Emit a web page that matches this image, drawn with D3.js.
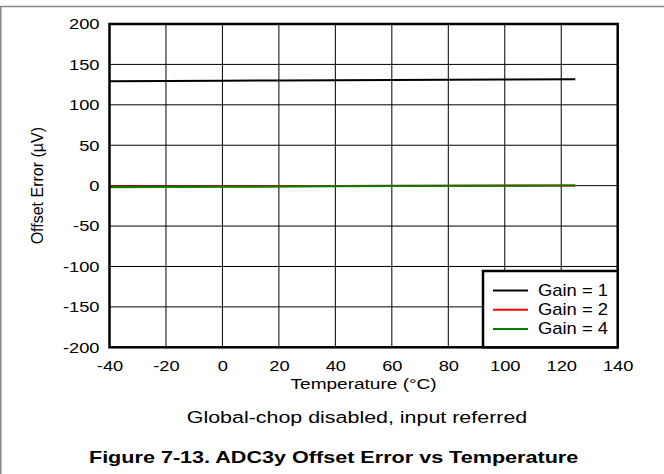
<!DOCTYPE html>
<html>
<head>
<meta charset="utf-8">
<script src="https://cdn.jsdelivr.net/npm/d3@7"></script>
<style>
  body { margin: 0; background: #fff; }
  text { font-family: "Liberation Sans", Arial, sans-serif; fill: #000; }
</style>
</head>
<body>
<svg id="chart" width="664" height="474"></svg>
<script>
// data
var temps = [-40, -20, 0, 20, 40, 60, 80, 100, 125];
var gain1 = [129.3, 129.6, 129.9, 130.2, 130.5, 130.8, 131.1, 131.4, 131.7];
var gain2 = [-1.2, -1.0, -0.8, -0.6, -0.4, -0.2, 0.0, 0.1, 0.3];
var gain4 = [-2.0, -1.7, -1.4, -1.1, -0.8, -0.5, -0.2, 0.0, 0.3];
var seriesNames = ["Gain = 1", "Gain = 2", "Gain = 4"];
var seriesColors = ["#000", "#f00", "#008000"];
var xTicks = [-40, -20, 0, 20, 40, 60, 80, 100, 120, 140];
var yTicks = [-200, -150, -100, -50, 0, 50, 100, 150, 200];

var svg = d3.select("#chart");

// the source image is stretched sideways, so text gets a horizontal scale
function stretched(x0, y0, sx) {
    return "translate(" + x0 + "," + y0 + ") scale(" + sx + ",1)";
}

// outer figure border
svg.append("path")
    .attr("d", "M0.75,480 L0.75,6.5 L670,6.5")
    .attr("fill", "none").attr("stroke", "#888").attr("stroke-width", 1.5);

var pLeft = 109.5, pRight = 617.7, pTop = 24, pBottom = 347.3;
var x = d3.scaleLinear().domain([-40, 140]).range([pLeft, pRight]);
var y = d3.scaleLinear().domain([-200, 200]).range([pBottom, pTop]);

// grid
var g = svg.append("g");
g.selectAll(".vg").data(xTicks.slice(1, -1)).enter().append("line")
    .attr("x1", d => x(d)).attr("x2", d => x(d))
    .attr("y1", pTop).attr("y2", pBottom)
    .attr("stroke", "#000").attr("stroke-width", 1);
g.selectAll(".hg").data(yTicks.slice(1, -1)).enter().append("line")
    .attr("x1", pLeft).attr("x2", pRight)
    .attr("y1", d => y(d)).attr("y2", d => y(d))
    .attr("stroke", "#000").attr("stroke-width", 1);

// series
var allSeries = [gain1, gain2, gain4];
var line = d3.line().x((d, i) => x(temps[i])).y(d => y(d));
allSeries.forEach(function (s, k) {
    svg.append("path").datum(s)
        .attr("d", line)
        .attr("fill", "none")
        .attr("stroke", seriesColors[k])
        .attr("stroke-width", 2);
});

// frame
svg.append("rect")
    .attr("x", pLeft).attr("y", pTop)
    .attr("width", pRight - pLeft).attr("height", pBottom - pTop)
    .attr("fill", "none").attr("stroke", "#000").attr("stroke-width", 2.5);

// tick labels
var xAxis = d3.axisBottom(x).tickValues(xTicks).tickSize(0).tickPadding(0)
    .tickFormat(d => String(d));
svg.append("g").attr("transform", "translate(0," + (pBottom + 13) + ")")
    .call(xAxis)
    .call(a => a.select(".domain").remove())
    .selectAll("text").attr("font-size", 15).attr("dy", "0.71em")
    .attr("transform", "scale(1.22,1)")
    .style("font-family", "Liberation Sans, Arial, sans-serif").attr("fill", "#000");

var yAxis = d3.axisLeft(y).tickValues(yTicks).tickSize(0).tickPadding(0)
    .tickFormat(d => String(d));
svg.append("g").attr("transform", "translate(" + (pLeft - 10) + ",0)")
    .call(yAxis)
    .call(a => a.select(".domain").remove())
    .selectAll("text").attr("font-size", 15)
    .attr("transform", "scale(1.22,1)")
    .style("font-family", "Liberation Sans, Arial, sans-serif").attr("fill", "#000");

svg.append("text")
    .attr("transform", stretched((pLeft + pRight) / 2, 389, 1.27))
    .attr("text-anchor", "middle").attr("font-size", 15)
    .text("Temperature (°C)");

svg.append("text")
    .attr("transform", "translate(43," + ((pTop + pBottom) / 2) + ") rotate(-90)")
    .attr("text-anchor", "middle").attr("font-size", 16)
    .text("Offset Error (µV)");

svg.append("text")
    .attr("transform", stretched(357, 423, 1.26))
    .attr("text-anchor", "middle").attr("font-size", 17)
    .text("Global-chop disabled, input referred");

svg.append("text")
    .attr("transform", stretched(333.6, 463, 1.27))
    .attr("text-anchor", "middle").attr("font-size", 17).attr("font-weight", "bold")
    .text("Figure 7-13. ADC3y Offset Error vs Temperature");

// legend
var lg = svg.append("g");
lg.append("rect")
    .attr("x", 483).attr("y", 271)
    .attr("width", pRight - 483).attr("height", pBottom - 271)
    .attr("fill", "#fff").attr("stroke", "#000").attr("stroke-width", 2.5);
seriesNames.forEach(function (name, k) {
    var ly = 290.5 + k * 19.2;
    lg.append("line")
        .attr("x1", 493).attr("x2", 528).attr("y1", ly).attr("y2", ly)
        .attr("stroke", seriesColors[k]).attr("stroke-width", 2);
    lg.append("text")
        .attr("transform", stretched(538, ly + 5.5, 1.15))
        .attr("font-size", 16)
        .text(name);
});
</script>
</body>
</html>
